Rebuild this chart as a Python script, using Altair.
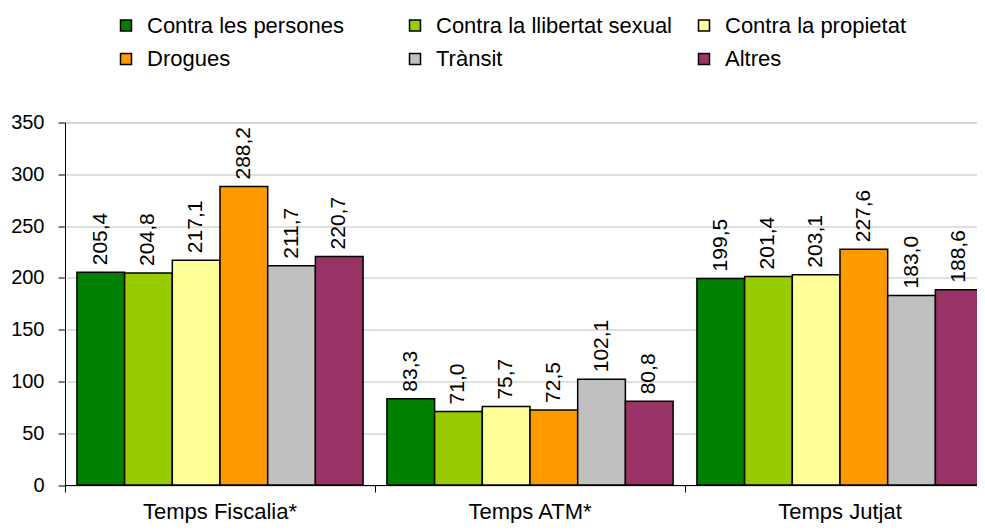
import altair as alt
import pandas as pd

groups = ["Temps Fiscalia*", "Temps ATM*", "Temps Jutjat"]
series = ["Contra les persones", "Contra la llibertat sexual", "Contra la propietat",
          "Drogues", "Trànsit", "Altres"]
fiscalia = [205.4, 204.8, 217.1, 288.2, 211.7, 220.7]
atm = [83.3, 71.0, 75.7, 72.5, 102.1, 80.8]
jutjat = [199.5, 201.4, 203.1, 227.6, 183.0, 188.6]
colors = ["#008000", "#99CC00", "#FFFF99", "#FF9900", "#C0C0C0", "#993366"]
y_ticks = [0, 50, 100, 150, 200, 250, 300, 350]

rows = []
for g, vals in zip(groups, [fiscalia, atm, jutjat]):
    for s, v in zip(series, vals):
        rows.append({"grup": g, "serie": s, "valor": v,
                     "etiqueta": f"{v:.1f}".replace(".", ",")})
df = pd.DataFrame(rows)

FONT = "Liberation Sans"

x = alt.X("grup:N", sort=groups,
          scale=alt.Scale(paddingInner=0, paddingOuter=0, range=[0, 930]),
          axis=alt.Axis(title=None, labelAngle=0, bandPosition=0, tickSize=7,
                        tickColor="black", domainColor="black", labelFontSize=22,
                        labelPadding=9, labelColor="black", labelFont=FONT,
                        grid=False, domainWidth=1, tickWidth=1))
xoff = alt.XOffset("serie:N", sort=series,
                   scale=alt.Scale(paddingInner=0, paddingOuter=0.25))
y = alt.Y("valor:Q", scale=alt.Scale(domain=[0, 350], nice=False),
          axis=alt.Axis(title=None, values=y_ticks, tickSize=7, tickColor="black",
                        domainColor="black", labelPadding=14, labelFontSize=20,
                        labelColor="black", labelFont=FONT, gridColor="#c0c0c0",
                        gridWidth=1, domainWidth=1, tickWidth=1))
color = alt.Color("serie:N", sort=series,
                  scale=alt.Scale(domain=series, range=colors),
                  legend=alt.Legend(title=None, orient="none", legendX=50, legendY=-108,
                                    columns=3, gridAlign="all", columnPadding=20,
                                    rowPadding=11.5, labelFontSize=22, labelFont=FONT,
                                    labelColor="black", symbolType="square",
                                    symbolSize=121, symbolStrokeColor="black",
                                    symbolStrokeWidth=1.5, symbolOpacity=1,
                                    labelOffset=10, padding=0, direction="horizontal",
                                    labelLimit=400))

bars = alt.Chart(df).mark_bar(stroke="black", strokeWidth=1.5, opacity=1).encode(
    x=x, xOffset=xoff, y=y, color=color)

text = alt.Chart(df).mark_text(angle=270, align="left", baseline="middle", dx=7,
                               fontSize=21, font=FONT, color="black").encode(
    x=alt.X("grup:N", sort=groups), xOffset=alt.XOffset("serie:N", sort=series),
    y=alt.Y("valor:Q"), text="etiqueta:N")

chart = alt.layer(bars, text).properties(
    width=912, height=362.5,
    autosize=alt.AutoSizeParams(type="none"),
    padding={"left": 57, "top": 114.5, "right": 0, "bottom": 38}
).configure_view(stroke=None).configure(font=FONT)

chart.save("out.html", embed_options={"renderer": "svg", "actions": False})
